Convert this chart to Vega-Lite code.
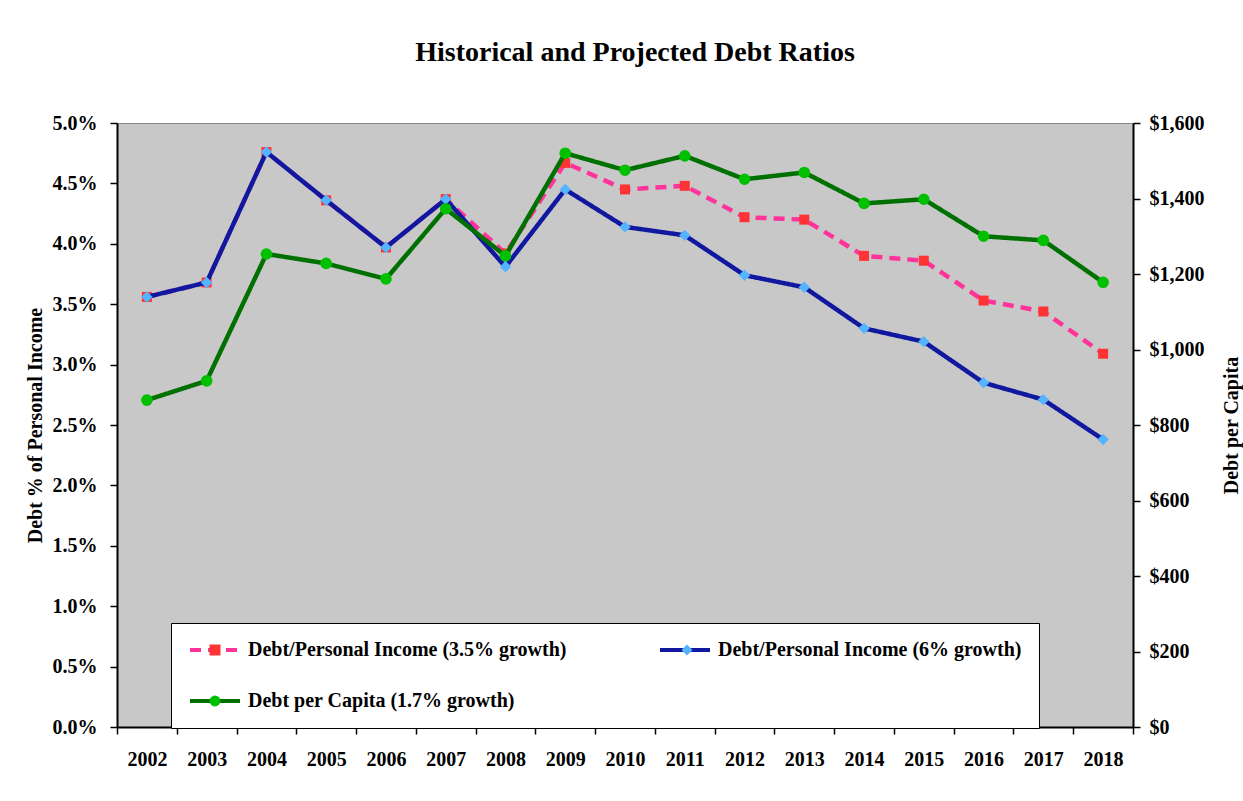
{
  "$schema": "https://vega.github.io/schema/vega-lite/v6.json",
  "autosize": {"type": "none"},
  "width": 1016,
  "height": 604,
  "padding": {"left": 117, "top": 123, "right": 110, "bottom": 74},
  "background": "white",
  "title": {"text": "Historical and Projected Debt Ratios", "fontSize": 28, "fontWeight": "bold", "font": "Liberation Serif", "color": "black", "anchor": "middle", "offset": 46, "dx": 10},
  "data": {"values": [
    {"year": "2002", "series": "Debt/Personal Income (3.5% growth)", "value": 0.0356},
    {"year": "2003", "series": "Debt/Personal Income (3.5% growth)", "value": 0.0368},
    {"year": "2004", "series": "Debt/Personal Income (3.5% growth)", "value": 0.0476},
    {"year": "2005", "series": "Debt/Personal Income (3.5% growth)", "value": 0.0436},
    {"year": "2006", "series": "Debt/Personal Income (3.5% growth)", "value": 0.0397},
    {"year": "2007", "series": "Debt/Personal Income (3.5% growth)", "value": 0.0437},
    {"year": "2008", "series": "Debt/Personal Income (3.5% growth)", "value": 0.0392},
    {"year": "2009", "series": "Debt/Personal Income (3.5% growth)", "value": 0.0467},
    {"year": "2010", "series": "Debt/Personal Income (3.5% growth)", "value": 0.0445},
    {"year": "2011", "series": "Debt/Personal Income (3.5% growth)", "value": 0.0448},
    {"year": "2012", "series": "Debt/Personal Income (3.5% growth)", "value": 0.0422},
    {"year": "2013", "series": "Debt/Personal Income (3.5% growth)", "value": 0.0420},
    {"year": "2014", "series": "Debt/Personal Income (3.5% growth)", "value": 0.0390},
    {"year": "2015", "series": "Debt/Personal Income (3.5% growth)", "value": 0.0386},
    {"year": "2016", "series": "Debt/Personal Income (3.5% growth)", "value": 0.0353},
    {"year": "2017", "series": "Debt/Personal Income (3.5% growth)", "value": 0.0344},
    {"year": "2018", "series": "Debt/Personal Income (3.5% growth)", "value": 0.0309},
    {"year": "2002", "series": "Debt/Personal Income (6% growth)", "value": 0.0356},
    {"year": "2003", "series": "Debt/Personal Income (6% growth)", "value": 0.0368},
    {"year": "2004", "series": "Debt/Personal Income (6% growth)", "value": 0.0476},
    {"year": "2005", "series": "Debt/Personal Income (6% growth)", "value": 0.0436},
    {"year": "2006", "series": "Debt/Personal Income (6% growth)", "value": 0.0397},
    {"year": "2007", "series": "Debt/Personal Income (6% growth)", "value": 0.0437},
    {"year": "2008", "series": "Debt/Personal Income (6% growth)", "value": 0.0381},
    {"year": "2009", "series": "Debt/Personal Income (6% growth)", "value": 0.0445},
    {"year": "2010", "series": "Debt/Personal Income (6% growth)", "value": 0.0414},
    {"year": "2011", "series": "Debt/Personal Income (6% growth)", "value": 0.0407},
    {"year": "2012", "series": "Debt/Personal Income (6% growth)", "value": 0.0374},
    {"year": "2013", "series": "Debt/Personal Income (6% growth)", "value": 0.0364},
    {"year": "2014", "series": "Debt/Personal Income (6% growth)", "value": 0.0330},
    {"year": "2015", "series": "Debt/Personal Income (6% growth)", "value": 0.0319},
    {"year": "2016", "series": "Debt/Personal Income (6% growth)", "value": 0.0285},
    {"year": "2017", "series": "Debt/Personal Income (6% growth)", "value": 0.0271},
    {"year": "2018", "series": "Debt/Personal Income (6% growth)", "value": 0.0238},
    {"year": "2002", "series": "Debt per Capita (1.7% growth)", "value": 866},
    {"year": "2003", "series": "Debt per Capita (1.7% growth)", "value": 917},
    {"year": "2004", "series": "Debt per Capita (1.7% growth)", "value": 1253},
    {"year": "2005", "series": "Debt per Capita (1.7% growth)", "value": 1228},
    {"year": "2006", "series": "Debt per Capita (1.7% growth)", "value": 1187},
    {"year": "2007", "series": "Debt per Capita (1.7% growth)", "value": 1373},
    {"year": "2008", "series": "Debt per Capita (1.7% growth)", "value": 1248},
    {"year": "2009", "series": "Debt per Capita (1.7% growth)", "value": 1520},
    {"year": "2010", "series": "Debt per Capita (1.7% growth)", "value": 1475},
    {"year": "2011", "series": "Debt per Capita (1.7% growth)", "value": 1513},
    {"year": "2012", "series": "Debt per Capita (1.7% growth)", "value": 1451},
    {"year": "2013", "series": "Debt per Capita (1.7% growth)", "value": 1469},
    {"year": "2014", "series": "Debt per Capita (1.7% growth)", "value": 1387},
    {"year": "2015", "series": "Debt per Capita (1.7% growth)", "value": 1398},
    {"year": "2016", "series": "Debt per Capita (1.7% growth)", "value": 1300},
    {"year": "2017", "series": "Debt per Capita (1.7% growth)", "value": 1289},
    {"year": "2018", "series": "Debt per Capita (1.7% growth)", "value": 1178}
  ]},
  "transform": [{"calculate": "datum.series", "as": "marker"}],
  "encoding": {
    "x": {
      "field": "year", "type": "ordinal",
      "scale": {"type": "band", "paddingInner": 0, "paddingOuter": 0},
      "axis": {"orient": "bottom", "title": null, "tickBand": "extent", "labelAngle": 0, "labelPadding": 15, "tickSize": 7, "tickWidth": 1.5, "tickColor": "black", "domainColor": "black", "domainWidth": 2, "labelFontSize": 20, "labelFontWeight": "bold", "labelColor": "black", "labelFont": "Liberation Serif", "grid": false}
    }
  },
  "layer": [
    {
      "encoding": {
        "y": {"field": "value", "type": "quantitative",
          "scale": {"domain": [0, 0.05], "nice": false, "zero": true},
          "axis": {"orient": "left", "format": ".1%", "values": [0, 0.005, 0.01, 0.015, 0.02, 0.025, 0.03, 0.035, 0.04, 0.045, 0.05], "tickSize": 7, "tickWidth": 1.5, "tickColor": "black", "domainColor": "black", "domainWidth": 2, "labelPadding": 13, "labelFontSize": 20, "labelFontWeight": "bold", "labelColor": "black", "labelFont": "Liberation Serif", "title": "Debt % of Personal Income", "titleFont": "Liberation Serif", "titleFontSize": 20, "titleFontWeight": "bold", "titleColor": "black", "titlePadding": 7, "grid": false}
        }
      },
      "layer": [
        {
          "transform": [{"filter": "datum.series === 'Debt/Personal Income (3.5% growth)'"}],
          "mark": {"type": "line", "strokeWidth": 4.5, "strokeCap": "butt"},
          "encoding": {
            "stroke": {"field": "series", "type": "nominal",
              "scale": {"domain": ["Debt/Personal Income (3.5% growth)", "Debt/Personal Income (6% growth)", "Debt per Capita (1.7% growth)"], "range": ["#ff3399", "#1018a0", "#007000"]},
              "legend": {"orient": "none", "legendX": 54, "legendY": 500, "direction": "horizontal", "columns": 2, "title": null, "symbolType": "stroke", "symbolSize": 2500, "symbolStrokeWidth": 4, "labelFontSize": 20, "labelFont": "Liberation Serif", "labelFontWeight": "bold", "labelColor": "black", "labelOffset": 6, "labelLimit": 700, "columnPadding": 91, "rowPadding": 31, "clipHeight": 20, "gridAlign": "all", "padding": 17, "fillColor": "white", "strokeColor": "black", "zindex": 1, "values": ["Debt/Personal Income (3.5% growth)", "Debt/Personal Income (6% growth)", "Debt per Capita (1.7% growth)"]}
            },
            "strokeDash": {"field": "series", "type": "nominal",
              "scale": {"domain": ["Debt/Personal Income (3.5% growth)", "Debt/Personal Income (6% growth)", "Debt per Capita (1.7% growth)"], "range": [[11, 7], [1, 0], [1, 0]]},
              "legend": {"orient": "none", "legendX": 54, "legendY": 500, "direction": "horizontal", "columns": 2, "title": null, "symbolType": "stroke", "symbolSize": 2500, "symbolStrokeWidth": 4, "labelFontSize": 20, "labelFont": "Liberation Serif", "labelFontWeight": "bold", "labelColor": "black", "labelOffset": 6, "labelLimit": 700, "columnPadding": 91, "rowPadding": 31, "clipHeight": 20, "gridAlign": "all", "padding": 17, "fillColor": "white", "strokeColor": "black", "zindex": 1, "values": ["Debt/Personal Income (3.5% growth)", "Debt/Personal Income (6% growth)", "Debt per Capita (1.7% growth)"]}
            }
          }
        },
        {
          "transform": [{"filter": "datum.series === 'Debt/Personal Income (3.5% growth)'"}],
          "mark": {"type": "point", "filled": true, "size": 100, "opacity": 1, "strokeWidth": 0},
          "encoding": {
            "fill": {"field": "marker", "type": "nominal", "scale": {"range": ["#00c000", "#ff3333", "#55b4ff"]},
              "legend": {"orient": "none", "legendX": 54, "legendY": 500, "direction": "horizontal", "columns": 2, "title": null, "symbolSize": 120, "symbolStrokeWidth": 0, "symbolOffset": 17, "labelFontSize": 20, "labelFont": "Liberation Serif", "labelFontWeight": "bold", "labelOpacity": 0, "labelOffset": 40, "labelLimit": 700, "columnPadding": 76, "rowPadding": 31, "clipHeight": 20, "gridAlign": "all", "padding": 17, "fillColor": "transparent", "strokeColor": "transparent", "zindex": 2, "values": ["Debt/Personal Income (3.5% growth)", "Debt/Personal Income (6% growth)", "Debt per Capita (1.7% growth)"]}},
            "shape": {"field": "marker", "type": "nominal", "scale": {"range": ["circle", "square", "diamond"]},
              "legend": {"orient": "none", "legendX": 54, "legendY": 500, "direction": "horizontal", "columns": 2, "title": null, "symbolSize": 120, "symbolStrokeWidth": 0, "symbolOffset": 17, "labelFontSize": 20, "labelFont": "Liberation Serif", "labelFontWeight": "bold", "labelOpacity": 0, "labelOffset": 40, "labelLimit": 700, "columnPadding": 76, "rowPadding": 31, "clipHeight": 20, "gridAlign": "all", "padding": 17, "fillColor": "transparent", "strokeColor": "transparent", "zindex": 2, "values": ["Debt/Personal Income (3.5% growth)", "Debt/Personal Income (6% growth)", "Debt per Capita (1.7% growth)"]}}
          }
        },
        {
          "transform": [{"filter": "datum.series === 'Debt/Personal Income (6% growth)'"}],
          "mark": {"type": "line", "strokeWidth": 4.5, "strokeCap": "butt"},
          "encoding": {
            "stroke": {"field": "series", "type": "nominal"},
            "strokeDash": {"field": "series", "type": "nominal"}
          }
        },
        {
          "transform": [{"filter": "datum.series === 'Debt/Personal Income (6% growth)'"}],
          "mark": {"type": "point", "filled": true, "size": 130, "opacity": 1, "strokeWidth": 0},
          "encoding": {
            "fill": {"field": "marker", "type": "nominal"},
            "shape": {"field": "marker", "type": "nominal"}
          }
        }
      ]
    },
    {
      "encoding": {
        "y": {"field": "value", "type": "quantitative",
          "scale": {"domain": [0, 1600], "nice": false, "zero": true},
          "axis": {"orient": "right", "format": "$,.0f", "values": [0, 200, 400, 600, 800, 1000, 1200, 1400, 1600], "tickSize": 7, "tickWidth": 1.5, "tickColor": "black", "domainColor": "black", "domainWidth": 2, "labelPadding": 9, "labelFontSize": 20, "labelFontWeight": "bold", "labelColor": "black", "labelFont": "Liberation Serif", "title": "Debt per Capita", "titleAngle": 270, "titleFont": "Liberation Serif", "titleFontSize": 20, "titleFontWeight": "bold", "titleColor": "black", "titlePadding": 37, "grid": false}
        }
      },
      "layer": [
        {
          "transform": [{"filter": "datum.series === 'Debt per Capita (1.7% growth)'"}],
          "mark": {"type": "line", "strokeWidth": 4.5, "strokeCap": "butt"},
          "encoding": {
            "stroke": {"field": "series", "type": "nominal"},
            "strokeDash": {"field": "series", "type": "nominal"}
          }
        },
        {
          "transform": [{"filter": "datum.series === 'Debt per Capita (1.7% growth)'"}],
          "mark": {"type": "point", "filled": true, "size": 135, "opacity": 1, "strokeWidth": 0},
          "encoding": {
            "fill": {"field": "marker", "type": "nominal"},
            "shape": {"field": "marker", "type": "nominal"}
          }
        }
      ]
    }
  ],
  "resolve": {"scale": {"y": "independent"}},
  "config": {
    "font": "Liberation Serif",
    "view": {"fill": "#c8c8c8", "stroke": "#888888", "strokeWidth": 1}
  }
}
